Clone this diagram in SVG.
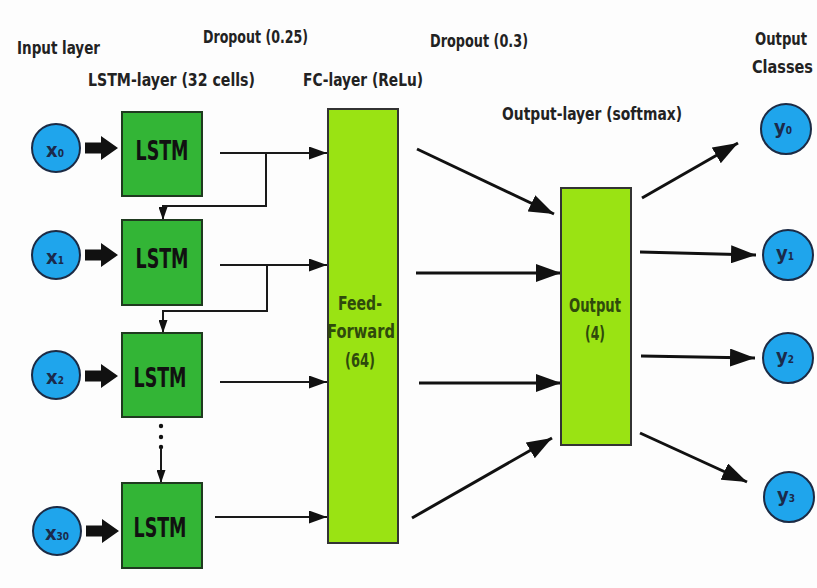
<svg xmlns="http://www.w3.org/2000/svg" width="817" height="588" viewBox="0 0 817 588">
<defs>
<style>
.t{font-family:"DejaVu Sans Condensed","DejaVu Sans","Liberation Sans",sans-serif;font-stretch:condensed;font-weight:bold;fill:#222;}
.lbl{font-size:17px;}
.box{font-size:27px;fill:#111;text-anchor:middle;}
.inner{font-size:20px;fill:#2f4a0c;text-anchor:middle;}
.cl{font-size:20px;fill:#1b2a4a;text-anchor:middle;}
.sub{font-size:10px;}
.in{fill:#1fa5ec;stroke:#1c2b45;stroke-width:2;}
.lstm{fill:#33b536;stroke:#1f3a1f;stroke-width:2;}
.lime{fill:#9ae313;stroke:#333;stroke-width:2;}
.thin{fill:none;stroke:#1a1a1a;stroke-width:2;}
.thick{fill:none;stroke:#111;stroke-width:3;}
</style>
<marker id="a1" markerUnits="userSpaceOnUse" markerWidth="18" markerHeight="13" refX="18" refY="6.5" orient="auto"><path d="M0,0 L18,6.5 L0,13 z" fill="#111"/></marker>
<marker id="a2" markerUnits="userSpaceOnUse" markerWidth="25" markerHeight="18" refX="25" refY="9" orient="auto"><path d="M0,0 L25,9 L0,18 z" fill="#111"/></marker>
<marker id="a3" markerUnits="userSpaceOnUse" markerWidth="13" markerHeight="9" refX="13" refY="4.5" orient="auto"><path d="M0,0 L13,4.5 L0,9 z" fill="#111"/></marker>
</defs>
<rect width="817" height="588" fill="#fdfdfd"/>

<g id="labels">
<text class="t lbl" x="17" y="54" textLength="83" lengthAdjust="spacingAndGlyphs">Input layer</text>
<text class="t lbl" x="203" y="43" textLength="105" lengthAdjust="spacingAndGlyphs">Dropout (0.25)</text>
<text class="t lbl" x="88" y="86" textLength="167" lengthAdjust="spacingAndGlyphs">LSTM-layer (32 cells)</text>
<text class="t lbl" x="303" y="86" textLength="120" lengthAdjust="spacingAndGlyphs">FC-layer (ReLu)</text>
<text class="t lbl" x="430" y="47" textLength="98" lengthAdjust="spacingAndGlyphs">Dropout (0.3)</text>
<text class="t lbl" x="502" y="120" textLength="180" lengthAdjust="spacingAndGlyphs">Output-layer (softmax)</text>
<text class="t lbl" x="755" y="45" textLength="52" lengthAdjust="spacingAndGlyphs">Output</text>
<text class="t lbl" x="752" y="73" textLength="61" lengthAdjust="spacingAndGlyphs">Classes</text>
</g>

<g id="connectors">
<path class="thin" d="M220,153 H327" marker-end="url(#a1)"/>
<path class="thin" d="M266,153 V206 H163 V220" marker-end="url(#a3)"/>
<path class="thin" d="M220,265 H327" marker-end="url(#a1)"/>
<path class="thin" d="M267,265 V311 H163 V333" marker-end="url(#a3)"/>
<path class="thin" d="M220,382 H327" marker-end="url(#a1)"/>
<circle cx="161" cy="426" r="2.2" fill="#111"/>
<circle cx="161" cy="437" r="2.2" fill="#111"/>
<circle cx="161" cy="447" r="2.2" fill="#111"/>
<path class="thin" d="M161,448 V483" marker-end="url(#a3)"/>
<path class="thin" d="M215,517 H327" marker-end="url(#a1)"/>
<path class="thick" d="M417,149 L554,214" marker-end="url(#a2)"/>
<path class="thick" d="M416,273 L561,273" marker-end="url(#a2)"/>
<path class="thick" d="M419,383 L561,383" marker-end="url(#a2)"/>
<path class="thick" d="M412,518 L552,438" marker-end="url(#a2)"/>
<path class="thick" d="M642,198 L738,143" marker-end="url(#a2)"/>
<path class="thick" d="M640,252 L756,255" marker-end="url(#a2)"/>
<path class="thick" d="M641,356 L755,358" marker-end="url(#a2)"/>
<path class="thick" d="M640,433 L747,482" marker-end="url(#a2)"/>
<path d="M85,142.5 H101 V136 L118,148 L101,160 V153.5 H85 z" fill="#111"/>
<path d="M85,249.5 H101 V243 L118,255 L101,267 V260.5 H85 z" fill="#111"/>
<path d="M85,370.5 H101 V364 L118,376 L101,388 V381.5 H85 z" fill="#111"/>
<path d="M86,525.5 H102 V519 L119,531 L102,543 V536.5 H86 z" fill="#111"/>
</g>

<g id="x0"><circle class="in" cx="56" cy="148" r="24"/><text class="t cl" x="55" y="157">x<tspan class="sub">0</tspan></text></g>
<g id="x1"><circle class="in" cx="56" cy="255" r="24"/><text class="t cl" x="55" y="264">x<tspan class="sub">1</tspan></text></g>
<g id="x2"><circle class="in" cx="56" cy="375" r="24"/><text class="t cl" x="55" y="384">x<tspan class="sub">2</tspan></text></g>
<g id="x30"><circle class="in" cx="57" cy="531" r="24"/><text class="t cl" x="57" y="540">x<tspan class="sub">30</tspan></text></g>

<g id="lstm0"><rect class="lstm" x="122" y="112" width="80" height="84"/><text class="t box" x="162" y="160" textLength="53" lengthAdjust="spacingAndGlyphs">LSTM</text></g>
<g id="lstm1"><rect class="lstm" x="122" y="220" width="80" height="85"/><text class="t box" x="162" y="268" textLength="53" lengthAdjust="spacingAndGlyphs">LSTM</text></g>
<g id="lstm2"><rect class="lstm" x="122" y="333" width="80" height="84"/><text class="t box" x="160" y="387" textLength="53" lengthAdjust="spacingAndGlyphs">LSTM</text></g>
<g id="lstm30"><rect class="lstm" x="122" y="483" width="80" height="85"/><text class="t box" x="160" y="537" textLength="53" lengthAdjust="spacingAndGlyphs">LSTM</text></g>

<g id="fc"><rect class="lime" x="328" y="109" width="70" height="434"/>
<text class="t inner" x="360" y="310" textLength="44" lengthAdjust="spacingAndGlyphs">Feed-</text>
<text class="t inner" x="361" y="338" textLength="68" lengthAdjust="spacingAndGlyphs">Forward</text>
<text class="t inner" x="360" y="367" textLength="30" lengthAdjust="spacingAndGlyphs">(64)</text></g>

<g id="output"><rect class="lime" x="561" y="188" width="70" height="257"/>
<text class="t inner" x="595" y="312" textLength="52" lengthAdjust="spacingAndGlyphs">Output</text>
<text class="t inner" x="595" y="340" textLength="20" lengthAdjust="spacingAndGlyphs">(4)</text></g>

<g id="y0"><circle class="in" cx="786" cy="129" r="25"/><text class="t cl" x="783" y="134">y<tspan class="sub">0</tspan></text></g>
<g id="y1"><circle class="in" cx="788" cy="255" r="25"/><text class="t cl" x="785" y="260">y<tspan class="sub">1</tspan></text></g>
<g id="y2"><circle class="in" cx="788" cy="358" r="25"/><text class="t cl" x="785" y="363">y<tspan class="sub">2</tspan></text></g>
<g id="y3"><circle class="in" cx="789" cy="497" r="25"/><text class="t cl" x="786" y="502">y<tspan class="sub">3</tspan></text></g>
</svg>
